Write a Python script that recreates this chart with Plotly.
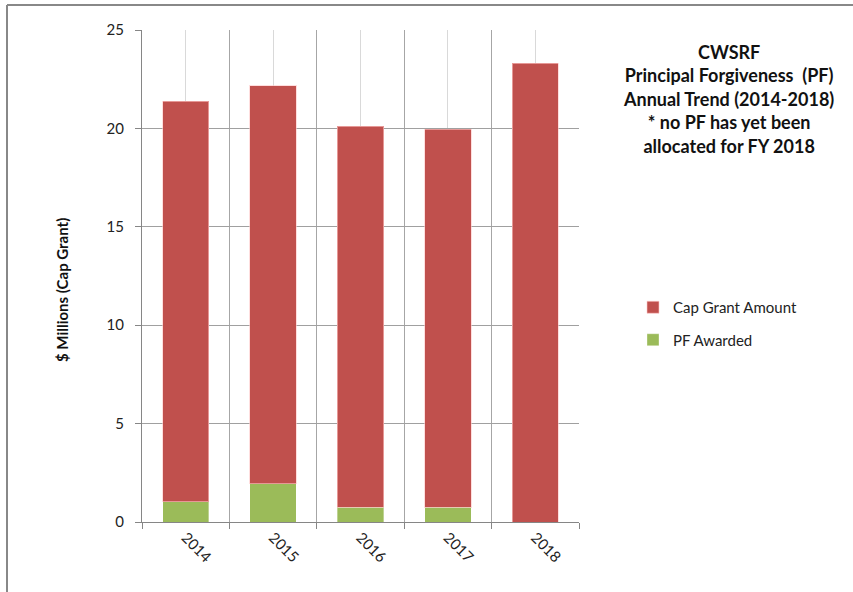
import plotly.graph_objects as go

years = ["2014", "2015", "2016", "2017", "2018"]
pf_awarded = [1.02, 1.95, 0.75, 0.75, 0.0]
cap_grant = [20.37, 20.22, 19.35, 19.2, 23.3]  # stacked on top of PF (totals ~21.4, 22.2, 20.1, 19.95, 23.3)
y_ticks = [0, 5, 10, 15, 20, 25]

xpos = list(range(len(years)))
bounds = [i - 0.5 for i in range(len(years) + 1)]

fig = go.Figure()
fig.add_trace(go.Bar(x=xpos, y=pf_awarded, name="PF Awarded", width=0.53, legendgroup="pf",
                     legendrank=2,
                     marker=dict(color="#9BBB59", line=dict(color="rgba(255,255,255,0.35)", width=1))))
fig.add_trace(go.Bar(x=xpos, y=cap_grant, name="Cap Grant Amount", width=0.53, legendgroup="cap",
                     legendrank=1,
                     marker=dict(color="#C0504D", line=dict(color="rgba(255,200,200,0.6)", width=1))))

L, R, T, B = 142, 274, 30, 70
W, H = 853, 592
pw, ph = W - L - R, H - T - B

def px(x):
    return (x - L) / pw

def py(y):
    return (H - B - y) / ph

fig.update_layout(
    width=W, height=H, barmode="stack",
    margin=dict(l=L, r=R, t=T, b=B, pad=0),
    paper_bgcolor="white", plot_bgcolor="white",
    font=dict(family="Lato, Open Sans, sans-serif", size=15, color="#222"),
    showlegend=True,
    legend=dict(traceorder="grouped", x=px(633), y=py(291), xanchor="left", yanchor="top",
                font=dict(size=15, color="#222"), itemwidth=30, tracegroupgap=10,
                bgcolor="rgba(0,0,0,0)"),
    xaxis=dict(range=[-0.5, len(years) - 0.5], tickvals=xpos, ticktext=years, tickangle=45,
               showgrid=True, gridcolor="#d9d9d9", gridwidth=1, ticks="",
               showline=True, linecolor="#868686", linewidth=1,
               tickfont=dict(size=15, color="#222"),
               minor=dict(tickvals=bounds, showgrid=True, gridcolor="#a6a6a6", gridwidth=1,
                          ticks="outside", ticklen=6, tickcolor="#868686")),
    yaxis=dict(range=[0, 25], tickvals=y_ticks, showgrid=True, gridcolor="#a0a0a0", gridwidth=1,
               zeroline=False, showline=True, linecolor="#868686", linewidth=1,
               ticks="outside", ticklen=6, tickcolor="#868686",
               tickfont=dict(size=15, color="#222"), ticklabelstandoff=8),
    shapes=[
        dict(type="line", xref="paper", yref="paper", x0=px(7), x1=px(853), y0=py(5), y1=py(5),
             line=dict(color="#888888", width=2)),
        dict(type="line", xref="paper", yref="paper", x0=px(7), x1=px(7), y0=py(5), y1=py(592),
             line=dict(color="#888888", width=2)),
    ],
    annotations=[
        dict(xref="paper", yref="paper", x=px(62), y=py(290), text="<b>$ Millions (Cap Grant)</b>",
             textangle=-90, showarrow=False, font=dict(size=15, color="#111"),
             xanchor="center", yanchor="middle"),
        dict(xref="paper", yref="paper", x=px(728), y=py(39), xanchor="center", yanchor="top",
             text="<b>CWSRF<br>Principal Forgiveness  (PF)<br>Annual Trend (2014-2018)<br>* no PF has yet been<br>allocated for FY 2018</b>",
             showarrow=False, align="center", font=dict(size=18, color="#111")),
    ],
)

fig.write_html("out.html")
